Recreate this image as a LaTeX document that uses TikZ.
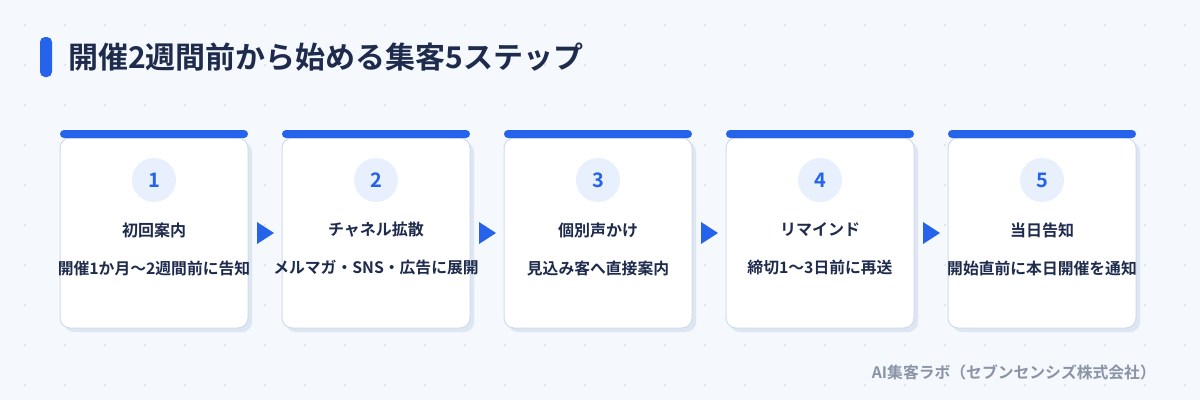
\documentclass[tikz,border=0pt]{standalone}
\usepackage{fontspec}
\setmainfont{Noto Sans CJK JP}[BoldFont={* Bold}]
\usetikzlibrary{positioning, calc}
\usepackage{xcolor}
\definecolor{bgc}{HTML}{F5F8FC}
\definecolor{navy}{HTML}{1E2B4D}
\definecolor{accent}{HTML}{2563EB}
\definecolor{cardedge}{HTML}{CFDCEC}
\definecolor{shadowc}{HTML}{DDE6F2}
\definecolor{numbg}{HTML}{E8F0FD}
\definecolor{footc}{HTML}{8A94A6}
\definecolor{dotc}{HTML}{DCE2EA}

\tikzset{
  card/.style={draw=cardedge, line width=1pt, fill=white, rounded corners=10pt,
    minimum width=188pt, minimum height=190pt, inner sep=0pt},
  cardshadow/.style={fill=shadowc, rounded corners=10pt,
    minimum width=188pt, minimum height=190pt, inner sep=0pt},
  topbar/.style={fill=accent, rounded corners=4pt, minimum width=188pt, minimum height=8pt, inner sep=0pt},
  num/.style={circle, fill=numbg, minimum size=44pt, inner sep=0pt, text=accent, font=\bfseries\fontsize{20}{20}\selectfont},
  steptitle/.style={text=navy, font=\bfseries\fontsize{16}{16}\selectfont},
  stepdesc/.style={text=navy, font=\bfseries\fontsize{15.8}{16}\selectfont},
  flow/.style={fill=accent, draw=none}
}

\begin{document}
\begin{tikzpicture}[x=1pt, y=-1pt]
  \useasboundingbox[fill=bgc] (0,0) rectangle (1200,400);
  % dot grid
  \foreach \i in {0,...,29}
    \foreach \j in {0,...,9}
      \fill[dotc] (25+40*\i,25+40*\j) circle (1.1pt);

  % title
  \node[fill=accent, rounded corners=5pt, minimum width=12pt, minimum height=40pt, inner sep=0pt] (bar) at (46,57) {};
  \node[anchor=west, text=navy, font=\bfseries\fontsize{30}{30}\selectfont, inner sep=0pt] (title) at (68,57) {開催2週間前から始める集客5ステップ};

  % cards
  \foreach \n/\t/\d [count=\k from 0] in {
      1/初回案内/開催1か月〜2週間前に告知,
      2/チャネル拡散/メルマガ・SNS・広告に展開,
      3/個別声かけ/見込み客へ直接案内,
      4/リマインド/締切1〜3日前に再送,
      5/当日告知/開始直前に本日開催を通知}{
    \node[cardshadow] (sh\n) at (154+222*\k+4,233+4) {};
    \node[card] (card\n) at (154+222*\k,233) {};
    \node[topbar] (bar\n) at (154+222*\k,134) {};
    \node[num] (num\n) at (154+222*\k,180) {\n};
    \node[steptitle] (t\n) at (154+222*\k,230) {\t};
    \node[stepdesc] (d\n) at (154+222*\k,268) {\d};
  }

  % arrows between cards
  \foreach \a/\b in {1/2,2/3,3/4,4/5}{
    \coordinate (m\a) at ($(card\a.east)!0.5!(card\b.west)$);
    \fill[flow] ($(m\a)+(-8,-11)$) -- ($(m\a)+(9,0)$) -- ($(m\a)+(-8,11)$) -- cycle;
  }

  % footer
  \node[anchor=east, text=footc, font=\bfseries\fontsize{15.8}{16}\selectfont, inner sep=0pt] (foot) at (1156,372) {AI集客ラボ（セブンセンシズ株式会社）};
\end{tikzpicture}
\end{document}
